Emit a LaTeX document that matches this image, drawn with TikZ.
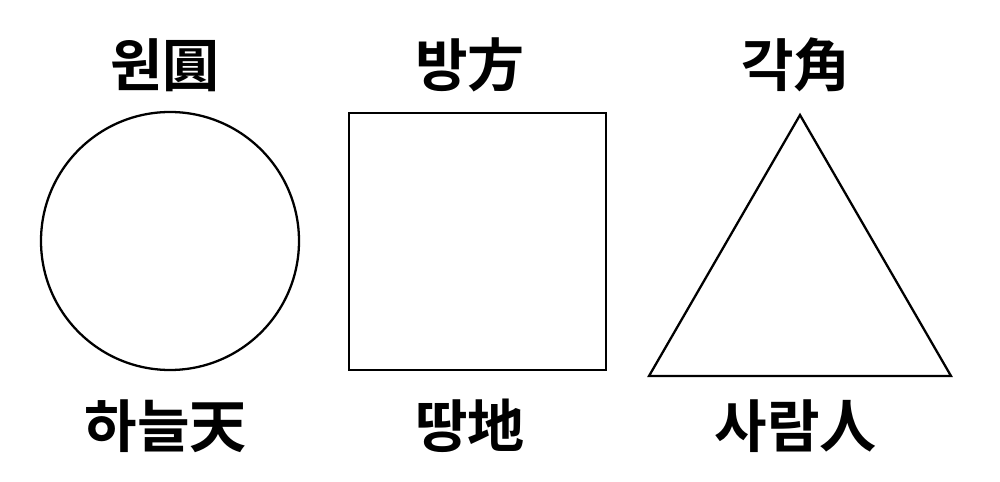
\documentclass[tikz,border=0pt]{standalone}
\usepackage{fontspec}
\newfontfamily\krfont{Noto Sans CJK KR}[BoldFont={Noto Sans CJK KR Bold}]
\begin{document}
\begin{tikzpicture}[x=0.02cm,y=-0.02cm,
  outl/.style={draw=black,line width=1.3pt},
  lbl/.style={font=\krfont\bfseries\fontsize{32.5}{36}\selectfont,inner sep=0pt,anchor=center}]
\useasboundingbox (0,0) rectangle (1000,482);
\draw[outl] (170,241) circle (129);
\draw[outl] (349,113) rectangle (606,370);
\draw[outl] (800,115) -- (951,376) -- (649,376) -- cycle;
\node[lbl] (t1) at (165,65) {원圓};
\node[lbl] (t2) at (470,65) {방方};
\node[lbl] (t3) at (796,65) {각角};
\node[lbl] (b1) at (166,426) {하늘天};
\node[lbl] (b2) at (470,426) {땅地};
\node[lbl] (b3) at (796,426) {사람人};
\end{tikzpicture}
\end{document}
